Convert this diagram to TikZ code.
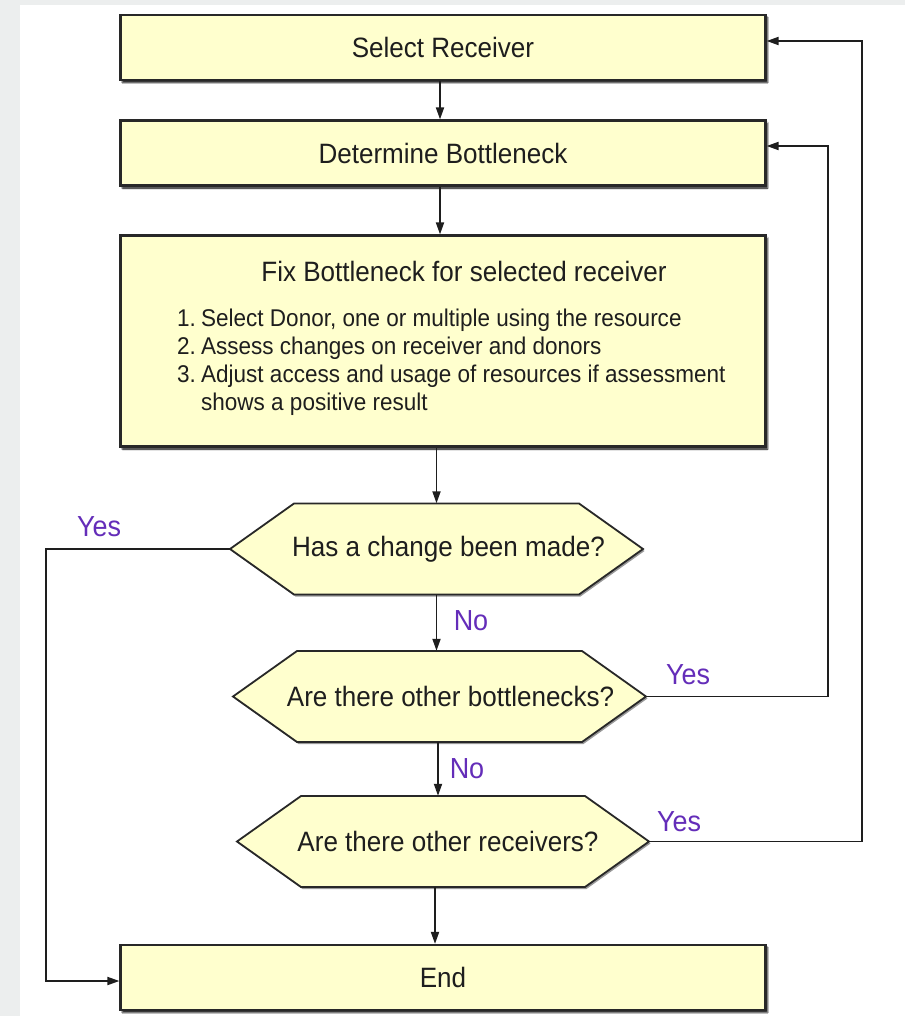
\documentclass[tikz,border=0pt]{standalone}
\usepackage{fontspec}
\setmainfont{Liberation Sans}[FakeStretch=0.93]
\usetikzlibrary{arrows.meta,shadows.blur}

\definecolor{boxfill}{RGB}{255,255,206}
\definecolor{edge}{RGB}{40,40,40}
\definecolor{ink}{RGB}{30,30,30}
\definecolor{answer}{RGB}{100,45,185}
\definecolor{pagegray}{RGB}{236,238,238}

\tikzset{
  stepbox/.style={draw=edge, line width=2.2pt, fill=boxfill,
    minimum width=645, minimum height=65, inner sep=0pt,
    text=ink, font=\fontsize{28}{32}\selectfont,
    blur shadow={shadow xshift=2pt, shadow yshift=-2.5pt,
      shadow blur steps=3, shadow blur radius=1.2pt, shadow opacity=85}},
  hexshape/.style={draw=edge, line width=1.8pt, fill=boxfill, line join=miter},
  hexshadow/.style={fill=black, opacity=0.4},
  hextext/.style={minimum height=91, inner sep=0pt, text=ink,
    font=\fontsize{28}{32}\selectfont},
  flow/.style={draw=ink, line width=1.8pt, -{Triangle[length=12pt,width=8pt]}},
  answer/.style={text=answer, font=\fontsize{29}{32}\selectfont, inner sep=0pt},
  titletext/.style={text=ink, font=\fontsize{28}{32}\selectfont, inner sep=0pt},
  listtext/.style={text=ink, font=\fontsize{24.2}{28}\selectfont, inner sep=0pt, align=left},
}

% decision hexagon: name, centre x, centre y, half width, text, text offset
\newcommand\decisionhex[6]{%
  \fill[hexshadow] ({#2-#4+1.5},{#3+2}) -- ({#2-#4+65.5},{#3-43.5}) -- ({#2+#4-62.5},{#3-43.5})
     -- ({#2+#4+1.5},{#3+2}) -- ({#2+#4-62.5},{#3+47.5}) -- ({#2-#4+65.5},{#3+47.5}) -- cycle;
  \draw[hexshape] ({#2-#4},#3) -- ({#2-#4+64},{#3-45.5}) -- ({#2+#4-64},{#3-45.5})
     -- ({#2+#4},#3) -- ({#2+#4-64},{#3+45.5}) -- ({#2-#4+64},{#3+45.5}) -- cycle;
  \node[hextext, minimum width={2*#4}] (#1) at (#2,#3) {\hspace*{#6}#5};%
}

\begin{document}
\begin{tikzpicture}[x=1pt, y=-1pt]
  % page and card
  \fill[pagegray] (0,0) rectangle (905,1016);
  \fill[white] (20,5) rectangle (905,1016);
  \useasboundingbox (0,0) rectangle (905,1016);

  % process boxes
  \node[stepbox] (select) at (443,47.5) {Select Receiver};
  \node[stepbox] (determine) at (443,153) {Determine Bottleneck};
  \node[stepbox, minimum height=211] (fix) at (443,341) {};
  \node[titletext] (fixtitle) at (464,271) {Fix Bottleneck for selected receiver};
  \node[listtext, anchor=north west] (fixsteps) at (177,309)
    {\makebox[24pt][l]{1.}Select Donor, one or multiple using the resource\\
     \makebox[24pt][l]{2.}Assess changes on receiver and donors\\
     \makebox[24pt][l]{3.}Adjust access and usage of resources if assessment\\
     \hspace*{24pt}shows a positive result};
  \node[stepbox] (finish) at (443,977.5) {End};

  % decisions
  \decisionhex{changed}{436.5}{549}{206.5}{Has a change been made?}{24pt}
  \decisionhex{morebn}{439.5}{696.5}{206.5}{Are there other bottlenecks?}{22pt}
  \decisionhex{morerc}{443}{841.5}{206}{Are there other receivers?}{10pt}

  % main flow
  \draw[flow] ([xshift=-3pt]select.south) -- ([xshift=-3pt]determine.north);
  \draw[flow] ([xshift=-3pt]determine.south) -- ([xshift=-3pt]fix.north);
  \draw[flow] (fix.south -| changed.north) -- (changed.north);
  \draw[flow] (changed.south) -- (changed.south |- morebn.north);
  \draw[flow] ([xshift=-1.5pt]morebn.south) -- ([xshift=-1.5pt]morebn.south |- morerc.north);
  \draw[flow] ([xshift=-8pt]morerc.south) -- ([xshift=-8pt]morerc.south |- finish.north);

  % loop entry points and rails
  \coordinate (finishin) at ([yshift=-3.5pt]finish.west);
  \coordinate (determinein) at ([yshift=7pt]determine.east);
  \coordinate (selectin) at ([yshift=6.5pt]select.east);
  \coordinate (leftrail) at (46,0);
  \coordinate (innerrail) at (828,0);
  \coordinate (outerrail) at (862,0);

  % loops
  \draw[flow] (changed.west) -- (changed.west -| leftrail)
    -- (leftrail |- finishin) -- (finishin);
  \draw[flow] (morebn.east) -- (morebn.east -| innerrail)
    -- (innerrail |- determinein) -- (determinein);
  \draw[flow] (morerc.east) -- (morerc.east -| outerrail)
    -- (outerrail |- selectin) -- (selectin);

  % answers
  \node[answer] (yes1) at (99,527) {Yes};
  \node[answer] (no1) at (471,621) {No};
  \node[answer] (yes2) at (688,675) {Yes};
  \node[answer] (no2) at (467,769) {No};
  \node[answer] (yes3) at (679,822) {Yes};
\end{tikzpicture}
\end{document}
